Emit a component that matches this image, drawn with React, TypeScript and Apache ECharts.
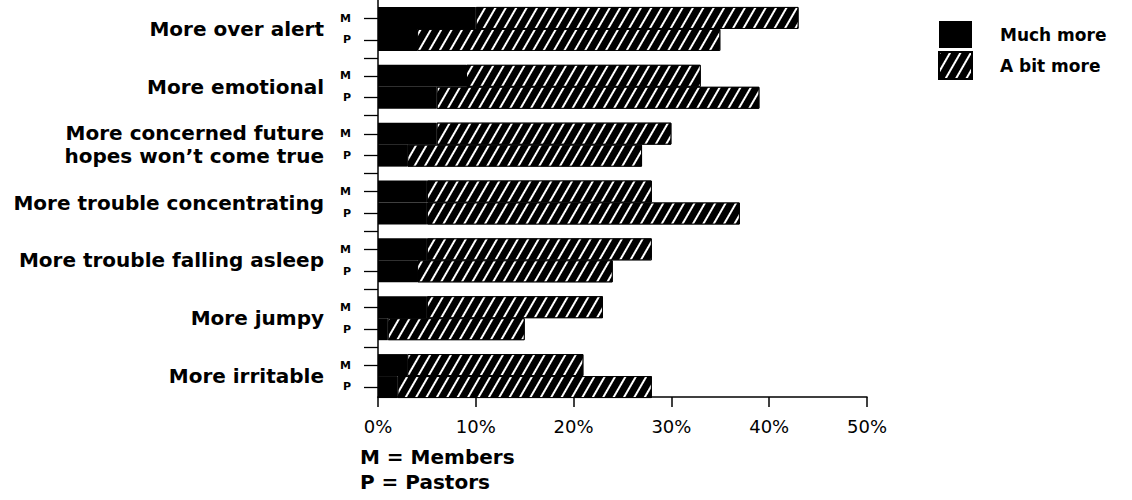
import React, { useEffect, useRef } from "react";
import * as echarts from "echarts";

const categories = [
  "More over alert",
  "More emotional",
  "More concerned future\nhopes won’t come true",
  "More trouble concentrating",
  "More trouble falling asleep",
  "More jumpy",
  "More irritable",
];
const groupLabels = ["M", "P"];
const seriesNames = ["Much more", "A bit more"];
const membersMuch = [10, 9, 6, 5, 5, 5, 3];
const membersBit = [33, 24, 24, 23, 23, 18, 18];
const pastorsMuch = [4, 6, 3, 5, 4, 1, 2];
const pastorsBit = [31, 33, 24, 32, 20, 14, 26];
const xTicks = [0, 10, 20, 30, 40, 50];
const footnotes = ["M = Members", "P = Pastors"];

const FONT = "DejaVu Sans";
const SUB = 16;
const M_POS = 5;
const P_POS = 11;

export default function App() {
  const ref = useRef<HTMLDivElement>(null);
  useEffect(() => {
    document.body.style.margin = "0";
    const chart = echarts.init(ref.current!, undefined, { renderer: "svg" });
    const subData: string[] = [];
    for (let i = 0; i <= categories.length * SUB; i++) {
      const r = i % SUB;
      subData.push(r === M_POS ? groupLabels[0] : r === P_POS ? groupLabels[1] : "");
    }
    const last = categories.length * SUB;
    const hatch = {
      symbol: "rect",
      symbolSize: 1,
      color: "#ffffff",
      dashArrayX: [1, 0],
      dashArrayY: [1.5, 6.8],
      rotation: -Math.PI / 3,
    };
    const xMin = xTicks[0];
    const xMax = xTicks[xTicks.length - 1];
    const xInt = xTicks[1] - xTicks[0];
    const barCommon = {
      type: "bar",
      xAxisIndex: 0,
      yAxisIndex: 0,
      barGap: "0%",
      barCategoryGap: "24%",
    };
    const option: any = {
      animation: false,
      grid: [
        { left: 378, top: 0, width: 489, height: 405 },
        { left: 378, top: 0, width: 489, height: 397 },
      ],
      legend: {
        orient: "vertical",
        left: 938,
        top: 21,
        itemWidth: 33,
        itemHeight: 27,
        itemGap: 3,
        padding: 0,
        selectedMode: false,
        icon: "rect",
        data: seriesNames,
        textStyle: {
          fontFamily: FONT,
          fontWeight: "bold",
          fontSize: 17,
          color: "#000",
          padding: [0, 0, 0, 23],
        },
      },
      xAxis: [
        { type: "value", gridIndex: 0, min: xMin, max: xMax, interval: xInt, show: false },
        {
          type: "value",
          gridIndex: 1,
          min: xMin,
          max: xMax,
          interval: xInt,
          axisLine: { show: true, lineStyle: { color: "#000", width: 1.5 } },
          axisTick: { show: true, length: 10, lineStyle: { color: "#000", width: 1.5 } },
          splitLine: { show: false },
          axisLabel: {
            formatter: "{value}%",
            margin: 20,
            fontFamily: FONT,
            fontSize: 18,
            color: "#000",
          },
        },
      ],
      yAxis: [
        {
          type: "category",
          gridIndex: 0,
          position: "left",
          inverse: true,
          data: categories,
          axisLine: { show: false },
          axisTick: { show: false },
          axisLabel: {
            margin: 54,
            fontFamily: FONT,
            fontWeight: "bold",
            fontSize: 20,
            lineHeight: 23,
            color: "#000",
          },
        },
        {
          type: "category",
          gridIndex: 0,
          position: "left",
          inverse: true,
          boundaryGap: false,
          data: subData,
          axisLine: { show: false },
          axisTick: {
            show: true,
            length: 14,
            lineStyle: { color: "#000", width: 1.3 },
            interval: (i: number) => {
              const r = i % SUB;
              return r === M_POS || r === P_POS || (r === 0 && i > 0 && i < last);
            },
          },
          axisLabel: {
            interval: 0,
            margin: 27,
            fontFamily: FONT,
            fontWeight: "bold",
            fontSize: 11,
            color: "#000",
          },
        },
        {
          type: "value",
          gridIndex: 1,
          position: "left",
          min: 0,
          max: 1,
          axisLine: { show: true, lineStyle: { color: "#000", width: 1.5 } },
          axisTick: { show: false },
          axisLabel: { show: false },
          splitLine: { show: false },
        },
      ],
      series: [
        {
          ...barCommon,
          name: seriesNames[0],
          stack: "M",
          data: membersMuch,
          itemStyle: { color: "#000" },
        },
        {
          ...barCommon,
          name: seriesNames[1],
          stack: "M",
          data: membersBit,
          itemStyle: { color: "#000", borderColor: "#000", borderWidth: 1, decal: hatch },
        },
        {
          ...barCommon,
          name: seriesNames[0],
          stack: "P",
          data: pastorsMuch,
          itemStyle: { color: "#000" },
        },
        {
          ...barCommon,
          name: seriesNames[1],
          stack: "P",
          data: pastorsBit,
          itemStyle: { color: "#000", borderColor: "#000", borderWidth: 1, decal: hatch },
        },
      ],
      graphic: footnotes.map((t, i) => ({
        type: "text",
        x: 360,
        y: 457 + i * 25,
        style: {
          text: t,
          fontFamily: FONT,
          fontWeight: "bold",
          fontSize: 20,
          fill: "#000",
          verticalAlign: "middle",
        },
      })),
    };
    chart.setOption(option);
    return () => chart.dispose();
  }, []);
  return <div ref={ref} style={{ width: 1132, height: 500 }} />;
}
